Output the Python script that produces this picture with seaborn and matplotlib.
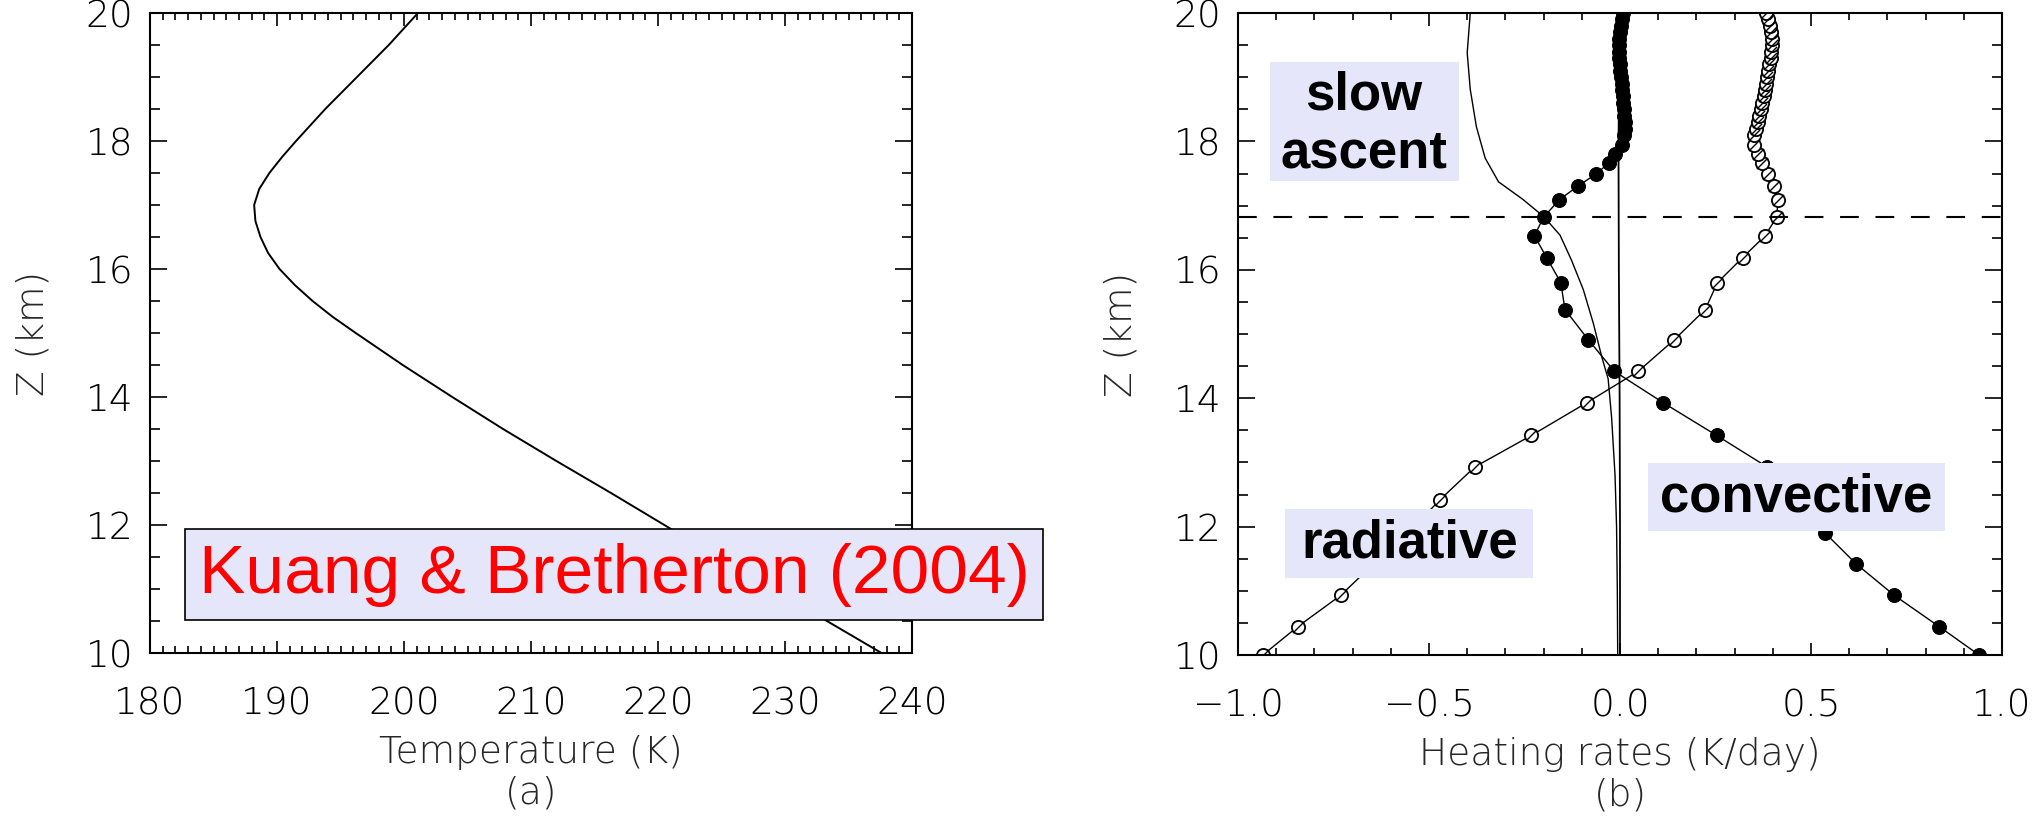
import matplotlib
matplotlib.use("Agg")
import matplotlib.pyplot as plt
from matplotlib.patches import Rectangle
from matplotlib.ticker import MultipleLocator
import seaborn as sns

# (a) temperature profile
T_Z = [10.0, 10.5, 11.0, 11.5, 12.0, 12.5, 13.0, 13.5, 14.0, 14.5,
       15.0, 15.25, 15.5, 15.75, 16.0, 16.25, 16.5, 16.75, 17.0, 17.25, 17.5, 17.75,
       18.0, 18.5, 19.0, 19.5, 20.0]
TEMP = [237.6, 233.3, 229.0, 224.7, 220.5, 216.3, 212.0, 207.8, 203.8, 199.9,
        196.2, 194.4, 192.8, 191.4, 190.2, 189.3, 188.7, 188.3, 188.2, 188.6, 189.4, 190.4,
        191.5, 193.8, 196.3, 198.8, 201.1]

# (b) heating rates on the model levels
RATE_Z = [10.0, 10.44, 10.93, 11.42, 11.9, 12.42, 12.93, 13.42, 13.93, 14.42, 14.91,
          15.38, 15.8, 16.19, 16.53, 16.82, 17.09, 17.31, 17.49, 17.66, 17.81, 17.95,
          18.1, 18.2, 18.3, 18.4, 18.5, 18.6, 18.7, 18.8, 18.9, 19.0,
          19.1, 19.2, 19.3, 19.4, 19.5, 19.6, 19.7, 19.8, 19.9, 20.0]
CONVECTIVE = [0.94, 0.836, 0.718, 0.618, 0.537, 0.46, 0.385, 0.253, 0.113, -0.015, -0.083,
              -0.144, -0.155, -0.192, -0.224, -0.200, -0.159, -0.109, -0.063, -0.030, -0.013, 0.004,
              0.010, 0.012, 0.012, 0.011, 0.010, 0.008, 0.007, 0.005, 0.004, 0.002,
              0.001, 0.000, -0.002, -0.003, -0.003, -0.002, 0.000, 0.003, 0.006, 0.009]
RADIATIVE = [-0.935, -0.844, -0.731, -0.645, -0.555, -0.471, -0.380, -0.232, -0.087, 0.048, 0.142,
             0.223, 0.255, 0.321, 0.380, 0.410, 0.414, 0.403, 0.388, 0.373, 0.360, 0.350,
             0.352, 0.356, 0.360, 0.364, 0.368, 0.372, 0.376, 0.379, 0.382, 0.385,
             0.388, 0.391, 0.394, 0.396, 0.398, 0.398, 0.396, 0.392, 0.387, 0.381]

SLOW_Z = [10.0, 11.0, 12.0, 12.8, 13.7, 14.3, 14.65, 15.17, 15.69, 16.15, 16.54, 16.83,
          17.1, 17.37, 17.74, 18.23, 18.81, 19.38, 20.0]
SLOW = [-0.006, -0.007, -0.009, -0.013, -0.022, -0.031, -0.048, -0.070, -0.096, -0.127, -0.157, -0.200,
        -0.255, -0.318, -0.353, -0.376, -0.392, -0.400, -0.392]

NET_Z = [10.0, 12.0, 14.0, 16.0, 18.0, 20.0]
NET = [0.0, 0.0, -0.001, -0.003, -0.004, 0.0]

TROPOPAUSE = 16.82

W, H = 2043, 825

sns.set_theme(style="ticks")
plt.rcParams["font.family"] = ["DejaVu Sans"]

fig = plt.figure(figsize=(W / 100, H / 100), dpi=100)
fig.patch.set_facecolor("white")


def px_axes(x0, y0, x1, y1):
    return fig.add_axes([x0 / W, 1 - y1 / H, (x1 - x0) / W, (y1 - y0) / H])


def style_axes(ax):
    ax.set_facecolor("white")
    for s in ax.spines.values():
        s.set_visible(True)
        s.set_linewidth(1.5)
        s.set_color("black")
    ax.tick_params(which="both", direction="in", top=True, right=True, color="black",
                   width=1.2, labelsize=27, labelcolor="black")
    ax.tick_params(axis="x", which="major", length=9, pad=24)
    ax.tick_params(axis="x", which="minor", length=5)
    ax.tick_params(axis="y", which="major", length=12, pad=12)
    ax.tick_params(axis="y", which="minor", length=7)
    for lab in ax.get_xticklabels() + ax.get_yticklabels():
        lab.set_fontweight("light")
    ax.set_ylim(10, 20)
    ax.yaxis.set_major_locator(MultipleLocator(2))
    ax.yaxis.set_minor_locator(MultipleLocator(0.5))


def label_box(x0, y0, x1, y1, edge=None):
    fig.add_artist(Rectangle((x0 / W, 1 - y1 / H), (x1 - x0) / W, (y1 - y0) / H,
                             transform=fig.transFigure, facecolor="#E6E6FA",
                             edgecolor=edge if edge else "none", linewidth=1.2, zorder=5))


def label_text(x, y, s, **kw):
    fig.text(x / W, 1 - y / H, s, ha="center", va="baseline",
             family=["Liberation Sans", "DejaVu Sans"], zorder=6, **kw)


# ---- panel (a)
ax1 = px_axes(150, 13, 912, 653)
sns.lineplot(x=TEMP, y=T_Z, sort=False, estimator=None, color="black", lw=1.4, ax=ax1)
ax1.set_xlim(180, 240)
ax1.xaxis.set_major_locator(MultipleLocator(10))
ax1.xaxis.set_minor_locator(MultipleLocator(1))
style_axes(ax1)
ax1.set_xlabel("Temperature (K)\n(a)", fontsize=27, fontweight="light", labelpad=10)
ax1.set_ylabel("Z (km)", fontsize=27, fontweight="light")
ax1.yaxis.set_label_coords(-0.13, 0.5)

# ---- panel (b)
ax2 = px_axes(1238, 13, 2002, 655)
sns.lineplot(x=SLOW, y=SLOW_Z, sort=False, estimator=None, color="black", lw=1.0, ax=ax2)
sns.lineplot(x=NET, y=NET_Z, sort=False, estimator=None, color="black", lw=1.3, ax=ax2)
sns.lineplot(x=RADIATIVE, y=RATE_Z, sort=False, estimator=None, color="black", lw=1.0,
             marker="o", markersize=9.5, markerfacecolor="white", markeredgecolor="black",
             markeredgewidth=1.3, ax=ax2)
sns.lineplot(x=RADIATIVE, y=RATE_Z, sort=False, estimator=None, color="black", linestyle="",
             marker=[(-1, -1), (1, 1)], markersize=8, markeredgecolor="black",
             markeredgewidth=1.0, ax=ax2)
sns.lineplot(x=CONVECTIVE, y=RATE_Z, sort=False, estimator=None, color="black", lw=1.0,
             marker="o", markersize=10, markerfacecolor="black", markeredgecolor="black", ax=ax2)
ax2.axhline(TROPOPAUSE, color="black", lw=1.5, dashes=(9, 8))
ax2.set_xlim(-1.0, 1.0)
ax2.xaxis.set_major_locator(MultipleLocator(0.5))
ax2.xaxis.set_minor_locator(MultipleLocator(0.1))
style_axes(ax2)
ax2.set_xlabel("Heating rates (K/day)\n(b)", fontsize=27, fontweight="light", labelpad=10)
ax2.set_ylabel("Z (km)", fontsize=27, fontweight="light")
ax2.yaxis.set_label_coords(-0.13, 0.5)

# ---- annotation boxes
label_box(185, 529, 1043, 620, edge="black")
label_text(614, 593, "Kuang & Bretherton (2004)", fontsize=50, color="red")

label_box(1270, 62, 1459, 181)
label_text(1364, 110, "slow", fontsize=38, fontweight="bold", color="black")
label_text(1364, 168, "ascent", fontsize=38, fontweight="bold", color="black")

label_box(1285, 509, 1533, 578)
label_text(1410, 557, "radiative", fontsize=38, fontweight="bold", color="black")

label_box(1648, 463, 1945, 531)
label_text(1796, 511, "convective", fontsize=38, fontweight="bold", color="black")

fig.savefig("out.png", dpi=100, facecolor="white")
